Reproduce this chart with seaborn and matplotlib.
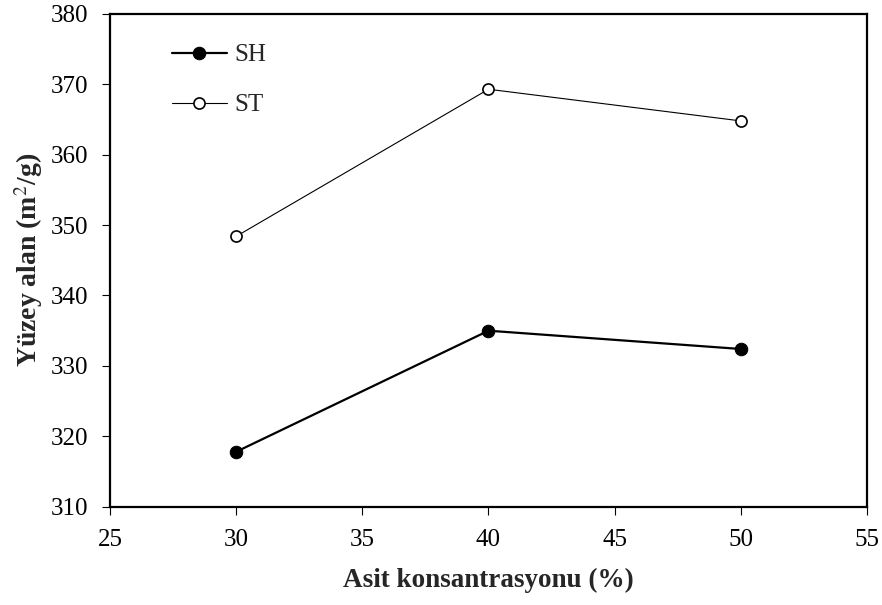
import matplotlib
matplotlib.use('Agg')
import matplotlib.pyplot as plt
import seaborn as sns
import pandas as pd

# veri
asit = [30, 40, 50]
sh_values = [317.8, 335.0, 332.4]
st_values = [348.4, 369.3, 364.8]

sns.set_style('white')
plt.rcParams['font.family'] = ['Liberation Serif', 'DejaVu Serif']
plt.rcParams['mathtext.fontset'] = 'stix'

df = pd.DataFrame({'asit': asit, 'SH': sh_values, 'ST': st_values})

fig = plt.figure(figsize=(8.82, 6.05), dpi=100)
ax = fig.add_axes([0.1247, 0.1625, 0.8583, 0.8145])

sns.lineplot(data=df, x='asit', y='SH', ax=ax, color='black', linewidth=1.6,
             marker='o', markersize=9, markerfacecolor='black',
             markeredgecolor='black', label='SH')
sns.lineplot(data=df, x='asit', y='ST', ax=ax, color='black', linewidth=0.8,
             marker='o', markersize=8, markerfacecolor='white',
             markeredgecolor='black', markeredgewidth=1.2, label='ST')

ax.set_xlim(25, 55)
ax.set_ylim(310, 380)
ax.set_xticks(range(25, 56, 5))
ax.set_yticks(range(310, 381, 10))
ax.tick_params(direction='out', length=6, width=0.8, labelsize=18,
               bottom=True, left=True, colors='black', pad=10)
for s in ax.spines.values():
    s.set_color('black')
    s.set_linewidth(1.6)

ax.set_xlabel('Asit konsantrasyonu (%)', fontsize=19.5, fontweight='bold', labelpad=12)
ax.set_ylabel('Yüzey alan (m$^2$/g)', fontsize=20, fontweight='bold', labelpad=4)

ax.legend(loc='upper left', bbox_to_anchor=(0.052, 0.985), frameon=False,
          fontsize=18, handlelength=2.2, labelspacing=1.1, handletextpad=0.3)
ax.grid(False)

plt.savefig('out.png', dpi=100)
